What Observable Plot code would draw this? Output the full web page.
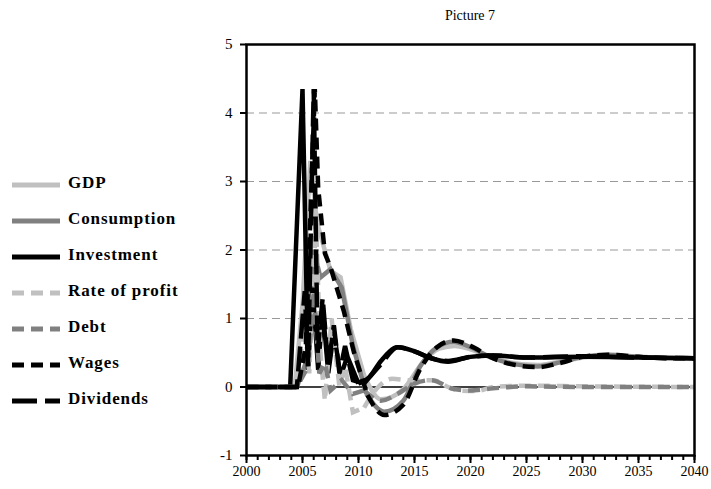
<!DOCTYPE html>
<html><head><meta charset="utf-8">
<script src="https://cdn.jsdelivr.net/npm/d3@7"></script>
<script src="https://cdn.jsdelivr.net/npm/@observablehq/plot@0.6"></script>
<style>
body{margin:0;background:#fff;}
#wrap{position:relative;width:711px;height:489px;font-family:"Liberation Serif",serif;}
#title{position:absolute;left:246px;width:448px;top:9px;text-align:center;font-size:14px;line-height:14px;}
#legend{position:absolute;left:0;top:0;}
#chart{position:absolute;left:0;top:0;}
#chart svg text, #legend text{font-family:"Liberation Serif",serif;}
</style></head><body>
<div id="wrap"><div id="chart"></div><div id="title">Picture 7</div><svg id="legend" width="240" height="489"></svg></div>
<script>
const seriesNames = ["GDP","Consumption","Investment","Rate of profit","Debt","Wages","Dividends"];
const seriesColors = ["#c0c0c0","#808080","#000000","#c0c0c0","#808080","#000000","#000000"];
const seriesDashes = [null,null,null,"12,7","12,7","12,7","25,8"];

const gdpYears   = [2000,2004.3,2005.0,2005.7,2006.3,2007.5,2008.4,2009.3,2010.5,2012.0,2014.0,2015.8,2017.2,2018.6,2020.0,2021.5,2023.5,2026.0,2028.0,2031.0,2033.0,2036.0,2040];
const gdpValues  = [0,0,1.2,3.3,2.4,1.7,1.6,0.85,0.17,-0.18,-0.03,0.37,0.56,0.6,0.55,0.45,0.36,0.32,0.37,0.45,0.46,0.43,0.42];

const consYears  = [2000,2004.5,2005.4,2006.0,2006.6,2007.5,2008.5,2009.5,2010.7,2012.3,2014.0,2015.5,2017.0,2018.5,2020.0,2022.0,2024.0,2026.0,2028.0,2030.0,2032.3,2035.0,2040];
const consValues = [0,0,0.4,2.0,1.6,1.72,1.45,0.6,-0.1,-0.36,-0.2,0.3,0.58,0.66,0.58,0.42,0.33,0.3,0.36,0.44,0.47,0.44,0.42];

const invYears   = [2000,2003.9,2005.0,2005.5,2005.9,2006.4,2006.8,2007.3,2007.8,2008.4,2009.0,2010.0,2011.0,2012.0,2013.5,2015.0,2016.5,2018.0,2020.0,2022.0,2025.0,2030.0,2035.0,2040];
const invValues  = [0,0,4.35,0.25,1.45,0.25,1.15,0.2,0.8,0.15,0.45,0.05,0.15,0.38,0.58,0.52,0.42,0.37,0.44,0.46,0.43,0.44,0.43,0.42];

const profYears  = [2000,2004.4,2005.2,2005.6,2006.2,2006.6,2007.0,2007.6,2008.3,2008.8,2009.5,2010.5,2011.5,2013.0,2014.5,2016.7,2018.0,2019.0,2020.5,2022.0,2025.0,2030.0,2040];
const profValues = [0,0,0.9,0.2,2.4,0.5,-0.2,1.0,0.0,0.3,-0.37,-0.3,-0.05,0.12,0.1,0.1,0.0,-0.05,-0.06,0.0,0.02,0.01,0.0];

const debtYears  = [2000,2004.5,2005.5,2006.0,2006.5,2007.0,2007.5,2008.5,2009.5,2010.5,2012.0,2013.5,2015.0,2016.5,2018.5,2020.0,2022.0,2025.0,2030.0,2040];
const debtValues = [0,0,0.3,1.4,0.2,0.35,-0.05,0.1,-0.1,-0.05,-0.2,-0.1,0.05,0.1,-0.03,-0.05,-0.02,0.01,0.0,0.0];

const wageYears  = [2000,2004.6,2005.3,2006.1,2006.4,2007.0,2007.5,2008.7,2009.6,2010.8,2012.3,2014.0,2015.5,2017.0,2018.5,2020.0,2022.0,2024.0,2026.0,2028.0,2030.0,2032.3,2035.0,2038.0,2040];
const wageValues = [0,0,0.6,4.35,2.9,1.95,1.75,1.1,0.5,-0.12,-0.41,-0.26,0.26,0.58,0.68,0.6,0.42,0.32,0.29,0.35,0.44,0.47,0.44,0.42,0.42];

const divYears   = [2000,2004.5,2005.2,2005.5,2006.0,2006.35,2006.8,2007.3,2007.8,2008.3,2008.8,2009.5,2010.5,2012.0,2013.5,2015.0,2016.5,2018.0,2020.0,2022.0,2025.0,2030.0,2035.0,2040];
const divValues  = [0,0,1.4,0.3,4.35,0.5,1.3,0.3,0.9,0.2,0.6,0.1,0.05,0.33,0.58,0.52,0.42,0.38,0.44,0.46,0.43,0.45,0.43,0.42];

const yTicks = [-1,0,1,2,3,4,5];
const gridValues = [1,2,3,4];
const xMajorTicks = [2000,2005,2010,2015,2020,2025,2030,2035,2040];
const xMinorTicks = d3.range(2000, 2041, 1);
const smoothFrom = 2010; // simulated path is jagged before this year, smooth after

const yearsList = [gdpYears,consYears,invYears,profYears,debtYears,wageYears,divYears];
const valuesList = [gdpValues,consValues,invValues,profValues,debtValues,wageValues,divValues];

const lineMarks = seriesNames.flatMap((name, i) => {
  const rows = yearsList[i].map((t, j) => ({series: name, year: t, value: valuesList[i][j]}));
  const k = rows.findIndex(r => r.year >= smoothFrom);
  const opts = {x: "year", y: "value", stroke: seriesColors[i], strokeWidth: 4.5,
    strokeDasharray: seriesDashes[i] || undefined, strokeLinejoin: "miter", strokeMiterlimit: 3, strokeLinecap: "butt"};
  return [
    Plot.line(rows.slice(0, k + 1), {...opts, curve: "linear"}),
    Plot.line(rows.slice(k), {...opts, curve: "monotone-x"})
  ];
});

const chart = Plot.plot({
  width: 711, height: 489,
  marginLeft: 246, marginRight: 17, marginTop: 44, marginBottom: 34,
  style: {fontFamily: "'Liberation Serif', serif", color: "#000", background: "#fff"},
  x: {domain: [2000, 2040]},
  y: {domain: [-1, 5]},
  marks: [
    Plot.ruleY(gridValues, {stroke: "#999", strokeWidth: 1, strokeDasharray: "8,5"}),
    Plot.ruleY([0], {stroke: "#000", strokeWidth: 1.5}),
    ...lineMarks,
    Plot.frame({stroke: "#000", strokeWidth: 2.5}),
    Plot.axisY({ticks: yTicks, tickSize: 6, tickPadding: 8, tickFormat: d => String(d), fontSize: 15, strokeWidth: 2, label: null}),
    Plot.axisX({ticks: xMinorTicks, tickSize: 5, tickFormat: () => "", strokeWidth: 2, label: null}),
    Plot.axisX({ticks: xMajorTicks, tickSize: 8, tickPadding: 3, tickFormat: d => String(d), fontSize: 14, strokeWidth: 2, label: null})
  ]
});
document.getElementById("chart").appendChild(chart);

const leg = d3.select("#legend");
seriesNames.forEach((name, i) => {
  const y = 185 + i * 36;
  leg.append("line").attr("x1", 12).attr("x2", 60).attr("y1", y).attr("y2", y)
    .attr("stroke", seriesColors[i]).attr("stroke-width", 5)
    .attr("stroke-dasharray", seriesDashes[i]);
  leg.append("text").attr("x", 68).attr("y", y + 3).text(name)
    .attr("font-weight", "bold")
    .attr("font-size", 17).attr("letter-spacing", "0.9px").attr("fill", "#000");
});
</script>
</body></html>
